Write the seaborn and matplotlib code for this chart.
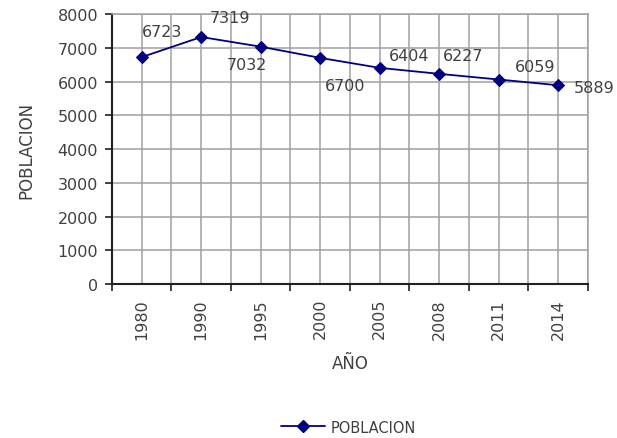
import matplotlib
matplotlib.use("Agg")
import matplotlib.pyplot as plt
from matplotlib.ticker import FixedLocator, MultipleLocator
from matplotlib.lines import Line2D
import seaborn as sns
import pandas as pd

years = ["1980", "1990", "1995", "2000", "2005", "2008", "2011", "2014"]
poblacion = [6723, 7319, 7032, 6700, 6404, 6227, 6059, 5889]
# label offsets in pixels (dx, dy) for each data label
label_offsets = [(20, 26), (29, 19), (-14, -18), (25, -28), (29, 12), (24, 18), (36, 13), (36, -2)]

sns.set_theme(style="white")
plt.rcParams['font.family'] = ['DejaVu Sans']
text_color = "#404040"

df = pd.DataFrame({"AÑO": years, "POBLACION": poblacion})

fig = plt.figure(figsize=(6.17, 4.39), dpi=100)
ax = fig.add_axes([0.1815, 0.3508, 0.7715, 0.615])

sns.lineplot(data=df, x="AÑO", y="POBLACION", ax=ax, color="#000080",
             marker="D", markersize=6.5, markeredgecolor="#000080",
             linewidth=1.3, sort=False, zorder=3)

n = len(years)
ax.set_xlim(-0.5, n - 0.5)
ax.set_ylim(0, 8000)
ax.yaxis.set_major_locator(MultipleLocator(1000))

ax.set_xticks(range(n))
ax.set_xticklabels(years, rotation=90, color=text_color, fontsize=11.5)
ax.xaxis.set_minor_locator(FixedLocator([i - 0.5 for i in range(n + 1)]))
ax.tick_params(axis="x", which="major", length=0, pad=10)
ax.tick_params(axis="x", which="minor", length=5, width=1.2, direction="out",
               color="#202020", bottom=True)
ax.tick_params(axis="y", which="major", length=5, width=1.2, direction="out",
               color="#202020", left=True, labelsize=11.5, labelcolor=text_color, pad=5)

ax.grid(True, which="major", axis="both", color="#a0a0a0", linewidth=1.1)
ax.grid(True, which="minor", axis="x", color="#a0a0a0", linewidth=1.1)
ax.set_axisbelow(True)

for side in ["top", "right"]:
    ax.spines[side].set_color("#a0a0a0")
    ax.spines[side].set_linewidth(1.1)
for side in ["left", "bottom"]:
    ax.spines[side].set_color("#202020")
    ax.spines[side].set_linewidth(1.5)

ax.set_xlabel("AÑO", color=text_color, fontsize=12, labelpad=11)
ax.set_ylabel("POBLACION", color=text_color, fontsize=12, labelpad=16)

for i, (v, off) in enumerate(zip(poblacion, label_offsets)):
    ax.annotate(str(v), (i, v), xytext=off, textcoords="offset pixels",
                ha="center", va="center", fontsize=11.5, color=text_color)

handle = Line2D([0], [0], color="#000080", marker="D", markersize=6, linewidth=1.3)
fig.legend([handle], ["POBLACION"], loc="center", bbox_to_anchor=(0.565, 0.025),
           frameon=False, fontsize=10.5, handlelength=3, handletextpad=0.4,
           labelcolor=text_color)

fig.savefig("out.png", dpi=100)
